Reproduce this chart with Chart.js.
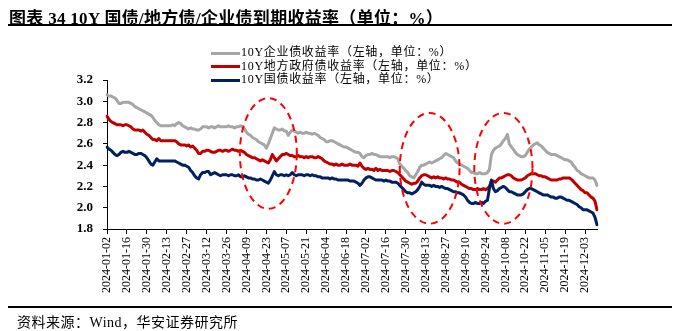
<!DOCTYPE html>
<html>
<head>
<meta charset="utf-8">
<script src="https://cdn.jsdelivr.net/npm/chart.js@4"></script>
<style>
  body { margin: 0; background: #fff; }
  #wrap { position: relative; width: 699px; height: 331px; overflow: hidden; }
  #yieldChart { position: absolute; left: 0; top: 0; }
  .title {
    position: absolute; left: 9px; top: 4px;
    font: 700 17px "Liberation Serif", "Noto Sans CJK SC", serif;
    letter-spacing: 0.3px;
    color: #000; white-space: nowrap;
  }
  .rule { position: absolute; left: 8px; width: 664px; background: #000; }
  .rule.top { top: 24px; height: 2px; }
  .rule.bottom { top: 306px; height: 2px; }
  .source {
    position: absolute; left: 17px; top: 311px;
    font: 400 14px "Liberation Serif", "Noto Sans CJK SC", serif;
    letter-spacing: 0.5px;
    color: #000; white-space: nowrap;
  }
  #legend { position: absolute; left: 211px; top: 42px; }
  .legend-row {
    height: 13.5px; line-height: 13.5px; white-space: nowrap;
    font: 400 12px "Liberation Serif", "Noto Sans CJK SC", serif;
    letter-spacing: 0.7px; color: #000;
  }
  .legend-row .swatch {
    display: inline-block; width: 29px; height: 3px; vertical-align: middle; margin-right: 1px;
  }
</style>
</head>
<body>
<div id="wrap">
  <canvas id="yieldChart" width="699" height="331"></canvas>
  <div class="title">图表 34 10Y 国债/地方债/企业债到期收益率（单位：%）</div>
  <div class="rule top"></div>
  <div id="legend"></div>
  <div class="rule bottom"></div>
  <div class="source">资料来源：Wind，华安证券研究所</div>
</div>
<script>
// trading calendar: every weekday from the first to the last observation
var startDate = "2024-01-02";
var endDate = "2024-12-11";

var dates = [];
for (var d = new Date(startDate + "T00:00:00Z"); d <= new Date(endDate + "T00:00:00Z"); d.setUTCDate(d.getUTCDate() + 1)) {
    var wd = d.getUTCDay();
    if (wd !== 0 && wd !== 6) dates.push(d.toISOString().slice(0, 10));
}

var seriesNames = [
    "10Y企业债收益率（左轴，单位：%）",
    "10Y地方政府债收益率（左轴，单位：%）",
    "10Y国债收益率（左轴，单位：%）"
];

// 10Y corporate bond yield, %
var corporateYield = [
    3.06, 3.05, 3.05, 3.04, 3.03, 3.01, 2.98, 2.98, 2.99, 2.99,
    2.99, 2.99, 2.98, 2.97, 2.95, 2.94, 2.93, 2.92, 2.91, 2.90,
    2.89, 2.88, 2.87, 2.85, 2.82, 2.80, 2.78, 2.77, 2.77, 2.77,
    2.77, 2.77, 2.77, 2.78, 2.77, 2.79, 2.80, 2.79, 2.77, 2.76,
    2.75, 2.74, 2.75, 2.74, 2.74, 2.73, 2.73, 2.74, 2.76, 2.76,
    2.76, 2.75, 2.76, 2.76, 2.75, 2.76, 2.77, 2.76, 2.76, 2.76,
    2.76, 2.77, 2.76, 2.76, 2.75, 2.76, 2.76, 2.77, 2.76, 2.74,
    2.71, 2.69, 2.68, 2.66, 2.65, 2.64, 2.62, 2.61, 2.60, 2.59,
    2.56, 2.60, 2.65, 2.70, 2.75, 2.74, 2.73, 2.73, 2.74, 2.72,
    2.72, 2.68, 2.71, 2.73, 2.72, 2.71, 2.70, 2.71, 2.70, 2.70,
    2.71, 2.70, 2.70, 2.69, 2.70, 2.69, 2.68, 2.66, 2.65, 2.64,
    2.62, 2.62, 2.63, 2.63, 2.62, 2.61, 2.60, 2.59, 2.58, 2.57,
    2.57, 2.56, 2.55, 2.54, 2.53, 2.52, 2.52, 2.51, 2.48, 2.47,
    2.49, 2.50, 2.50, 2.51, 2.50, 2.50, 2.49, 2.48, 2.48, 2.48,
    2.48, 2.48, 2.47, 2.48, 2.48, 2.47, 2.46, 2.41, 2.39, 2.37,
    2.35, 2.33, 2.30, 2.29, 2.28, 2.31, 2.34, 2.38, 2.40, 2.40,
    2.41, 2.42, 2.43, 2.42, 2.43, 2.44, 2.45, 2.46, 2.47, 2.49,
    2.51, 2.50, 2.49, 2.48, 2.47, 2.44, 2.42, 2.41, 2.40, 2.39,
    2.38, 2.37, 2.35, 2.33, 2.33, 2.32, 2.32, 2.33, 2.32, 2.32,
    2.32, 2.33, 2.36, 2.50, 2.54, 2.56, 2.57, 2.58, 2.60, 2.63,
    2.65, 2.69, 2.60, 2.57, 2.55, 2.52, 2.50, 2.49, 2.48, 2.48,
    2.49, 2.52, 2.55, 2.57, 2.59, 2.60, 2.61, 2.59, 2.58, 2.56,
    2.54, 2.52, 2.51, 2.50, 2.50, 2.50, 2.49, 2.48, 2.47, 2.46,
    2.45, 2.45, 2.44, 2.43, 2.40, 2.38, 2.35, 2.34, 2.32, 2.31,
    2.30, 2.29, 2.28, 2.28, 2.28, 2.26, 2.21
];

// 10Y local government bond yield, %
var localGovYield = [
    2.86, 2.83, 2.81, 2.80, 2.79, 2.78, 2.78, 2.78, 2.77, 2.78,
    2.78, 2.77, 2.76, 2.74, 2.73, 2.73, 2.73, 2.72, 2.73, 2.71,
    2.69, 2.68, 2.66, 2.64, 2.64, 2.63, 2.65, 2.63, 2.63, 2.63,
    2.63, 2.63, 2.63, 2.63, 2.63, 2.62, 2.60, 2.59, 2.59, 2.59,
    2.58, 2.59, 2.57, 2.58, 2.56, 2.54, 2.51, 2.51, 2.53, 2.53,
    2.54, 2.54, 2.53, 2.52, 2.52, 2.53, 2.54, 2.54, 2.53, 2.54,
    2.54, 2.53, 2.54, 2.55, 2.54, 2.54, 2.53, 2.54, 2.53, 2.52,
    2.50, 2.49, 2.48, 2.47, 2.47, 2.46, 2.45, 2.44, 2.45, 2.44,
    2.43, 2.42, 2.45, 2.50, 2.47, 2.44, 2.46, 2.48, 2.50, 2.50,
    2.51, 2.50, 2.49, 2.49, 2.48, 2.48, 2.49, 2.48, 2.48, 2.47,
    2.48, 2.47, 2.48, 2.48, 2.47, 2.47, 2.48, 2.47, 2.46, 2.44,
    2.43, 2.42, 2.41, 2.41, 2.40, 2.41, 2.40, 2.40, 2.41, 2.40,
    2.40, 2.40, 2.41, 2.40, 2.40, 2.40, 2.39, 2.42, 2.39, 2.37,
    2.36, 2.37, 2.36, 2.36, 2.35, 2.37, 2.35, 2.36, 2.35, 2.35,
    2.35, 2.35, 2.34, 2.35, 2.35, 2.34, 2.33, 2.31, 2.29, 2.27,
    2.25, 2.24, 2.23, 2.22, 2.23, 2.23, 2.25, 2.28, 2.30, 2.31,
    2.31, 2.30, 2.29, 2.28, 2.29, 2.28, 2.29, 2.28, 2.28, 2.27,
    2.28, 2.27, 2.27, 2.26, 2.26, 2.25, 2.24, 2.24, 2.22, 2.21,
    2.20, 2.19, 2.18, 2.18, 2.17, 2.17, 2.18, 2.17, 2.17, 2.18,
    2.17, 2.18, 2.20, 2.25, 2.25, 2.24, 2.26, 2.28, 2.28, 2.29,
    2.30, 2.31, 2.31, 2.30, 2.28, 2.27, 2.26, 2.26, 2.26, 2.27,
    2.28, 2.30, 2.31, 2.32, 2.32, 2.32, 2.31, 2.30, 2.30, 2.29,
    2.29, 2.28, 2.27, 2.26, 2.26, 2.26, 2.26, 2.27, 2.27, 2.28,
    2.28, 2.28, 2.28, 2.27, 2.25, 2.23, 2.21, 2.19, 2.17, 2.16,
    2.14, 2.14, 2.12, 2.10, 2.09, 2.06, 1.98
];

// 10Y treasury yield, %
var treasuryYield = [
    2.57, 2.55, 2.54, 2.52, 2.50, 2.49, 2.50, 2.52, 2.53, 2.52,
    2.52, 2.53, 2.52, 2.51, 2.50, 2.50, 2.51, 2.51, 2.50, 2.49,
    2.47, 2.44, 2.41, 2.40, 2.43, 2.46, 2.44, 2.44, 2.44, 2.44,
    2.44, 2.44, 2.44, 2.44, 2.44, 2.43, 2.42, 2.41, 2.40, 2.40,
    2.39, 2.38, 2.35, 2.33, 2.30, 2.28, 2.27, 2.31, 2.33, 2.33,
    2.34, 2.34, 2.31, 2.32, 2.33, 2.32, 2.31, 2.30, 2.31, 2.31,
    2.31, 2.30, 2.31, 2.31, 2.30, 2.30, 2.31, 2.29, 2.29, 2.30,
    2.29, 2.28, 2.28, 2.27, 2.27, 2.26, 2.26, 2.27, 2.26, 2.25,
    2.24, 2.23, 2.26, 2.30, 2.34, 2.31, 2.30, 2.31, 2.31, 2.30,
    2.31, 2.30, 2.31, 2.33, 2.31, 2.30, 2.31, 2.31, 2.31, 2.30,
    2.31, 2.31, 2.30, 2.31, 2.30, 2.30, 2.29, 2.29, 2.28, 2.28,
    2.28, 2.28, 2.27, 2.28, 2.27, 2.27, 2.26, 2.26, 2.26, 2.26,
    2.26, 2.26, 2.25, 2.25, 2.25, 2.24, 2.23, 2.21, 2.23, 2.26,
    2.28, 2.29, 2.29, 2.28, 2.27, 2.26, 2.26, 2.26, 2.26, 2.25,
    2.26, 2.25, 2.25, 2.24, 2.24, 2.24, 2.23, 2.21, 2.19, 2.17,
    2.15, 2.14, 2.14, 2.13, 2.14, 2.15, 2.17, 2.20, 2.24, 2.22,
    2.21, 2.21, 2.21, 2.20, 2.21, 2.20, 2.20, 2.19, 2.20, 2.19,
    2.18, 2.18, 2.17, 2.16, 2.15, 2.15, 2.14, 2.14, 2.13, 2.12,
    2.10, 2.07, 2.05, 2.04, 2.04, 2.05, 2.04, 2.04, 2.05, 2.04,
    2.06, 2.07, 2.18, 2.26, 2.18, 2.15, 2.16, 2.18, 2.19, 2.20,
    2.19, 2.17, 2.15, 2.15, 2.14, 2.13, 2.12, 2.12, 2.12, 2.13,
    2.15, 2.17, 2.18, 2.18, 2.17, 2.16, 2.15, 2.14, 2.13, 2.12,
    2.12, 2.12, 2.11, 2.10, 2.10, 2.09, 2.09, 2.10, 2.10, 2.09,
    2.08, 2.07, 2.07, 2.06, 2.05, 2.04, 2.03, 2.01, 2.00, 1.98,
    1.98, 1.98, 1.97, 1.96, 1.95, 1.91, 1.84
];

var yTicks = [1.8, 2.0, 2.2, 2.4, 2.6, 2.8, 3.0, 3.2];
var labelEvery = 10;

// dashed rings around the three rate swings: centre date / yield, half-width in days, half-height in %
var highlightRings = [
    { date: "2024-04-24", value: 2.51, halfDays: 14.3, halfValue: 0.52 },
    { date: "2024-08-15", value: 2.37, halfDays: 15, halfValue: 0.52 },
    { date: "2024-10-07", value: 2.37, halfDays: 14.6, halfValue: 0.52 }
];

var ringPlugin = {
    id: "rings",
    afterDatasetsDraw: function (chart) {
        var ctx = chart.ctx;
        var x = chart.scales.x;
        var y = chart.scales.y;
        ctx.save();
        ctx.strokeStyle = "#ff0000";
        ctx.lineWidth = 2;
        ctx.setLineDash([7, 5]);
        highlightRings.forEach(function (r) {
            var i = dates.indexOf(r.date);
            var cx = x.getPixelForValue(i);
            var cy = y.getPixelForValue(r.value);
            var rx = Math.abs(x.getPixelForValue(i + r.halfDays) - cx);
            var ry = Math.abs(y.getPixelForValue(r.value + r.halfValue) - cy);
            ctx.beginPath();
            ctx.ellipse(cx, cy, rx, ry, 0, 0, Math.PI * 2);
            ctx.stroke();
        });
        ctx.restore();
    }
};

var chart = new Chart(document.getElementById("yieldChart"), {
    type: "line",
    data: {
        labels: dates,
        datasets: [
            { label: seriesNames[0], data: corporateYield, borderColor: "#a6a6a6", order: 2 },
            { label: seriesNames[1], data: localGovYield, borderColor: "#c00000", order: 1 },
            { label: seriesNames[2], data: treasuryYield, borderColor: "#002060", order: 0 }
        ]
    },
    options: {
        responsive: false,
        animation: false,
        devicePixelRatio: 1,
        layout: { padding: { top: 80, right: 102, left: 0, bottom: 0 } },
        elements: {
            line: { borderWidth: 3, tension: 0, borderJoinStyle: "round", borderCapStyle: "round" },
            point: { radius: 0, hoverRadius: 0 }
        },
        plugins: {
            legend: { display: false },
            tooltip: { enabled: false }
        },
        scales: {
            x: {
                afterFit: function (s) { s.height = 102; },
                grid: { drawOnChartArea: false, drawTicks: true, tickLength: 5, color: "#000" },
                border: { display: true, color: "#000", width: 1 },
                ticks: {
                    autoSkip: false,
                    minRotation: 90,
                    maxRotation: 90,
                    padding: 3,
                    color: "#000",
                    font: { family: "'Liberation Serif', serif", size: 12 },
                    callback: function (v, i) { return i % labelEvery === 0 ? dates[i] : null; }
                }
            },
            y: {
                min: yTicks[0],
                max: yTicks[yTicks.length - 1],
                afterFit: function (s) { s.width = 107; },
                afterBuildTicks: function (s) { s.ticks = yTicks.map(function (v) { return { value: v }; }); },
                grid: { drawOnChartArea: false, drawTicks: true, tickLength: 4, color: "#000" },
                border: { display: true, color: "#000", width: 1 },
                ticks: {
                    padding: 10,
                    color: "#000",
                    font: { family: "'Liberation Serif', serif", size: 13, weight: "bold" },
                    callback: function (v) { return Number(v).toFixed(1); }
                }
            }
        }
    },
    plugins: [ringPlugin]
});

// legend rows built from the chart's own datasets
var legendBox = document.getElementById("legend");
chart.data.datasets.forEach(function (ds) {
    var row = document.createElement("div");
    row.className = "legend-row";
    var sw = document.createElement("span");
    sw.className = "swatch";
    sw.style.background = ds.borderColor;
    row.appendChild(sw);
    row.appendChild(document.createTextNode(ds.label));
    legendBox.appendChild(row);
});
</script>
</body>
</html>
